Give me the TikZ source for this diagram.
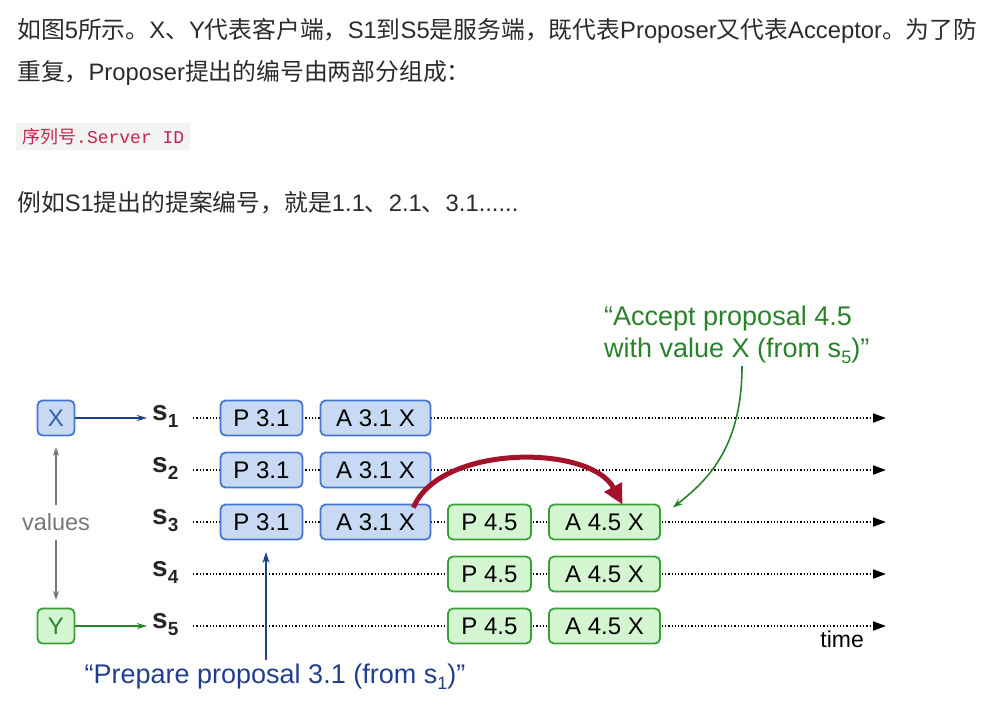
\documentclass[tikz,border=0pt]{standalone}
\usepackage{fontspec}
\setmainfont{Liberation Sans}
\setmonofont{Liberation Mono}
\newfontfamily\cjk{Noto Sans CJK SC}
\usetikzlibrary{arrows.meta,backgrounds}
\definecolor{txt}{HTML}{2B2B2B}
\definecolor{codebg}{HTML}{F3F3F3}
\definecolor{codefg}{HTML}{C7254E}
\definecolor{bfill}{HTML}{C8D9F4}
\definecolor{bdraw}{HTML}{4575CF}
\definecolor{gfill}{HTML}{D3F6D0}
\definecolor{gdraw}{HTML}{38A038}
\definecolor{navy}{HTML}{223F8E}
\definecolor{dgreen}{HTML}{2A822A}
\definecolor{arcred}{HTML}{A3122A}
\definecolor{grayv}{HTML}{777777}
\newcommand{\zh}[1]{{\cjk #1}}
\tikzset{
  para/.style={anchor=base west, inner sep=0pt, text=txt, font=\fontsize{23.8}{27}\selectfont},
  msg/.style={draw, line width=1.8pt, rounded corners=5pt, minimum height=35pt, inner sep=0pt, text=black, font=\fontsize{24}{26}\selectfont},
  pbox/.style={msg, fill=bfill, draw=bdraw},
  gbox/.style={msg, fill=gfill, draw=gdraw},
  slab/.style={anchor=base west, inner sep=0pt, font=\bfseries\fontsize{28}{30}\selectfont, text=black!85},
  timeline/.style={line width=1.7pt, dash pattern=on 1.3pt off 2pt, -{Triangle[length=13pt,width=9pt]}},
}
\newcommand{\ssub}[1]{s\raisebox{-7pt}{\fontsize{19}{19}\selectfont #1}}
\begin{document}
\begin{tikzpicture}[x=1pt,y=-1pt]
\useasboundingbox (0,0) rectangle (981,705);
\clip (0,0) rectangle (981,705);
% paragraph text
\node[para] (l1) at (17,38) {\zh{如图}5\zh{所示。}X\zh{、}Y\zh{代表客户端，}S1\zh{到}S5\zh{是服务端，既代表}Proposer\zh{又代表}Acceptor\zh{。为了防}};
\node[para] (l2) at (17,80) {\zh{重复，}Proposer\zh{提出的编号由两部分组成：}};
\node[fill=codebg, anchor=west, inner xsep=6pt, minimum height=27pt, text=codefg, font=\fontsize{18}{20}\selectfont] (code) at (16,136.5) {{\cjk 序列号}\texttt{.Server ID}};
\node[para] (l3) at (17,211) {\zh{例如}S1\zh{提出的提案编号，就是}1.1\zh{、}2.1\zh{、}3.1......};
% clients
\node[pbox, minimum width=37pt, text=bdraw!80!black] (X) at (56,418) {X};
\node[gbox, minimum width=37pt, text=dgreen] (Y) at (56,626) {Y};
\node[text=grayv, font=\fontsize{23.5}{26}\selectfont, inner sep=2pt] (val) at (56,522) {values};
\draw[grayv, line width=1.6pt, -{Stealth[length=9pt,width=6pt]}] (56,505) -- (56,447);
\draw[grayv, line width=1.6pt, -{Stealth[length=9pt,width=6pt]}] (56,540) -- (56,600);
% server labels
\foreach \i/\y in {1/418,2/470,3/522,4/574,5/626}{
  \node[slab] (s\i) at (152,\y+2) {\ssub{\i}};
  \coordinate (b\i) at (193,\y);
  \coordinate (e\i) at (886,\y);
}
\begin{scope}[on background layer]
\foreach \i in {1,...,5}{ \draw[timeline] (b\i) -- (e\i); }
\end{scope}
\draw[navy, line width=1.6pt, -{Stealth[length=10pt,width=6pt]}] (X) -- (147,418) coordinate (xa);
\draw[dgreen, line width=1.6pt, -{Stealth[length=10pt,width=6pt]}] (Y) -- (147,626) coordinate (ya);
% boxes
\foreach \i/\y in {1/418,2/470,3/522}{
  \node[pbox, minimum width=82pt] (p\i) at (261.5,\y) {P 3.1};
  \node[pbox, minimum width=110pt] (a\i) at (375.5,\y) {A 3.1 X};
}
\foreach \i/\y in {3/522,4/574,5/626}{
  \node[gbox, minimum width=83pt] (q\i) at (489.5,\y) {P 4.5};
  \node[gbox, minimum width=111pt] (c\i) at (604.5,\y) {A 4.5 X};
}
\node[anchor=base east, inner sep=0pt, font=\fontsize{23}{26}\selectfont, text=black] (time) at (864,647) {time};
% red arc
\draw[arcred, line width=5pt, -{Triangle[length=20pt,width=19pt]}] ([xshift=-18pt,yshift=-4pt]a3.north east) .. controls (440,444) and (590,444) .. ([xshift=18pt,yshift=-1pt]c3.north);
% annotations
\node[anchor=base west, align=left, inner sep=0pt, text=dgreen, font=\fontsize{27}{32}\selectfont] (acc) at (604,357) {“Accept proposal 4.5\\with value X (from s\raisebox{-6pt}{\fontsize{18}{18}\selectfont 5})”};
\draw[dgreen, line width=1.6pt, -{Stealth[length=10pt,width=7pt]}] (742,366) .. controls (742,450) and (705,482) .. ([xshift=12pt,yshift=-4pt]c3.north east);
\node[anchor=base, inner sep=0pt, text=navy, font=\fontsize{27}{30}\selectfont] (prep) at (275,683) {“Prepare proposal 3.1 (from s\raisebox{-6pt}{\fontsize{18}{18}\selectfont 1})”};
\coordinate (pt) at (266,552);
\draw[navy, line width=2pt, -{Stealth[length=11pt,width=7pt]}] (266,660) -- (pt);
\end{tikzpicture}
\end{document}
